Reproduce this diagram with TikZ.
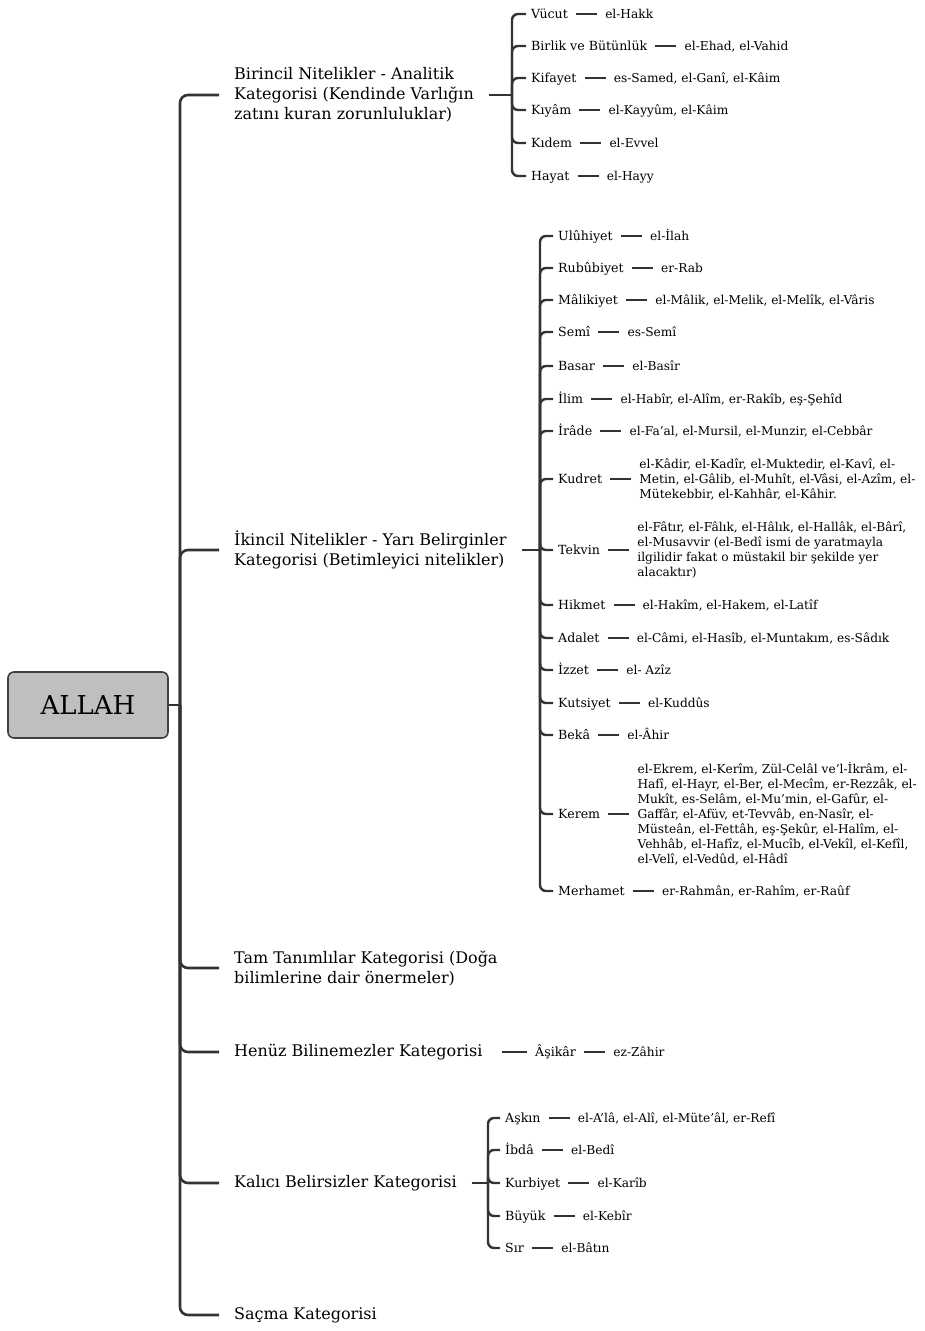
\documentclass[tikz,border=0pt]{standalone}
\usepackage{fontspec}
\setmainfont{DejaVu Serif}
\usetikzlibrary{positioning}
\tikzset{%
	root/.style={draw=black!75, line width=1.6pt, fill=black!25, rounded corners=6pt,%
		minimum width=160pt, minimum height=66pt, font=\fontsize{26}{30}\selectfont},
	cat/.style={anchor=west, align=left, inner xsep=15pt, inner ysep=2pt,%
		font=\fontsize{16}{20}\selectfont},
	attr/.style={anchor=west, inner xsep=5pt, inner ysep=2pt, text height=11pt, text depth=3pt,%
		font=\fontsize{12.6}{15}\selectfont},
	esma/.style={align=left, inner xsep=5pt, inner ysep=2pt, font=\fontsize{12.2}{15}\selectfont},
	oneline/.style={text height=11pt, text depth=3pt},
	trunk/.style={draw=black!80, line width=2.6pt, rounded corners=8pt},
	branch/.style={draw=black!80, line width=2.4pt, rounded corners=6pt},
	link/.style={draw=black!80, line width=1.3pt, shorten <=3pt, shorten >=3pt}
}
\newcommand\nitelik[6][oneline]{% name, x, y, label, esma
	\node[attr] (#2) at (#3,#4) {#5};
	\node[esma, #1, right=27pt of #2] (#2-e) {#6};
	\draw[link] (#2) -- (#2-e);
}

\begin{document}
\begin{tikzpicture}[x=1pt, y=-1pt]
  \useasboundingbox (0,0) rectangle (925,1331);
  \node[root] (allah) at (88,705) {ALLAH};
  \coordinate (j0) at (180,705);

  \node[cat] (birincil) at (219,95) {Birincil Nitelikler - Analitik\\Kategorisi (Kendinde Varlığın\\zatını kuran zorunluluklar)};
  \node[cat] (ikincil) at (219,550) {İkincil Nitelikler - Yarı Belirginler\\Kategorisi (Betimleyici nitelikler)};
  \node[cat] (tam) at (219,968) {Tam Tanımlılar Kategorisi (Doğa\\bilimlerine dair önermeler)};
  \node[cat] (henuz) at (219,1052) {Henüz Bilinemezler Kategorisi};
  \node[cat] (kalici) at (219,1183) {Kalıcı Belirsizler Kategorisi};
  \node[cat] (sacma) at (219,1315) {Saçma Kategorisi};

  \draw[trunk] (allah) -- (j0);
  \foreach \c in {birincil, ikincil, tam, henuz, kalici, sacma}
    \draw[trunk] (j0) |- (\c);

  % birincil nitelikler
  \coordinate (j1) at (512,95);
  \draw[branch] (birincil) -- (j1);
  \nitelik{vucut}{526}{14}{Vücut}{el-Hakk}
  \nitelik{birlik}{526}{46}{Birlik ve Bütünlük}{el-Ehad, el-Vahid}
  \nitelik{kifayet}{526}{78}{Kifayet}{es-Samed, el-Ganî, el-Kâim}
  \nitelik{kiyam}{526}{110}{Kıyâm}{el-Kayyûm, el-Kâim}
  \nitelik{kidem}{526}{143}{Kıdem}{el-Evvel}
  \nitelik{hayat}{526}{176}{Hayat}{el-Hayy}
  \foreach \n in {vucut, birlik, kifayet, kiyam, kidem, hayat}
    \draw[branch] (j1) |- (\n);

  % ikincil nitelikler
  \coordinate (j2) at (540,550);
  \draw[branch] (ikincil) -- (j2);
  \nitelik{uluhiyet}{553}{236}{Ulûhiyet}{el-İlah}
  \nitelik{rububiyet}{553}{268}{Rubûbiyet}{er-Rab}
  \nitelik{malikiyet}{553}{300}{Mâlikiyet}{el-Mâlik, el-Melik, el-Melîk, el-Vâris}
  \nitelik{semi}{553}{332}{Semî}{es-Semî}
  \nitelik{basar}{553}{366}{Basar}{el-Basîr}
  \nitelik{ilim}{553}{399}{İlim}{el-Habîr, el-Alîm, er-Rakîb, eş-Şehîd}
  \nitelik{irade}{553}{431}{İrâde}{el-Fa'al, el-Mursil, el-Munzir, el-Cebbâr}
  \nitelik[]{kudret}{553}{479}{Kudret}{el-Kâdir, el-Kadîr, el-Muktedir, el-Kavî, el-\\Metin, el-Gâlib, el-Muhît, el-Vâsi, el-Azîm, el-\\Mütekebbir, el-Kahhâr, el-Kâhir.}
  \nitelik[]{tekvin}{553}{550}{Tekvin}{el-Fâtır, el-Fâlık, el-Hâlık, el-Hallâk, el-Bârî,\\el-Musavvir (el-Bedî ismi de yaratmayla\\ilgilidir fakat o müstakil bir şekilde yer\\alacaktır)}
  \nitelik{hikmet}{553}{605}{Hikmet}{el-Hakîm, el-Hakem, el-Latîf}
  \nitelik{adalet}{553}{638}{Adalet}{el-Câmi, el-Hasîb, el-Muntakım, es-Sâdık}
  \nitelik{izzet}{553}{670}{İzzet}{el- Azîz}
  \nitelik{kutsiyet}{553}{703}{Kutsiyet}{el-Kuddûs}
  \nitelik{beka}{553}{735}{Bekâ}{el-Âhir}
  \nitelik[]{kerem}{553}{814}{Kerem}{el-Ekrem, el-Kerîm, Zül-Celâl ve'l-İkrâm, el-\\Hafî, el-Hayr, el-Ber, el-Mecîm, er-Rezzâk, el-\\Mukît, es-Selâm, el-Mu'min, el-Gafûr, el-\\Gaffâr, el-Afüv, et-Tevvâb, en-Nasîr, el-\\Müsteân, el-Fettâh, eş-Şekûr, el-Halîm, el-\\Vehhâb, el-Hafîz, el-Mucîb, el-Vekîl, el-Kefîl,\\el-Velî, el-Vedûd, el-Hâdî}
  \nitelik{merhamet}{553}{891}{Merhamet}{er-Rahmân, er-Rahîm, er-Raûf}
  \foreach \n in {uluhiyet, rububiyet, malikiyet, semi, basar, ilim, irade, kudret,
                  tekvin, hikmet, adalet, izzet, kutsiyet, beka, kerem, merhamet}
    \draw[branch] (j2) |- (\n);

  % henuz bilinemezler
  \nitelik{asikar}{530}{1052}{Âşikâr}{ez-Zâhir}
  \draw[branch, line width=2pt, shorten <=4pt, shorten >=3pt] (henuz) -- (asikar);

  % kalici belirsizler
  \coordinate (j5) at (488,1183);
  \draw[branch] (kalici) -- (j5);
  \nitelik{askin}{500}{1118}{Aşkın}{el-A'lâ, el-Alî, el-Müte'âl, er-Refî}
  \nitelik{ibda}{500}{1150}{İbdâ}{el-Bedî}
  \nitelik{kurbiyet}{500}{1183}{Kurbiyet}{el-Karîb}
  \nitelik{buyuk}{500}{1216}{Büyük}{el-Kebîr}
  \nitelik{sir}{500}{1248}{Sır}{el-Bâtın}
  \foreach \n in {askin, ibda, kurbiyet, buyuk, sir}
    \draw[branch] (j5) |- (\n);
\end{tikzpicture}
\end{document}
